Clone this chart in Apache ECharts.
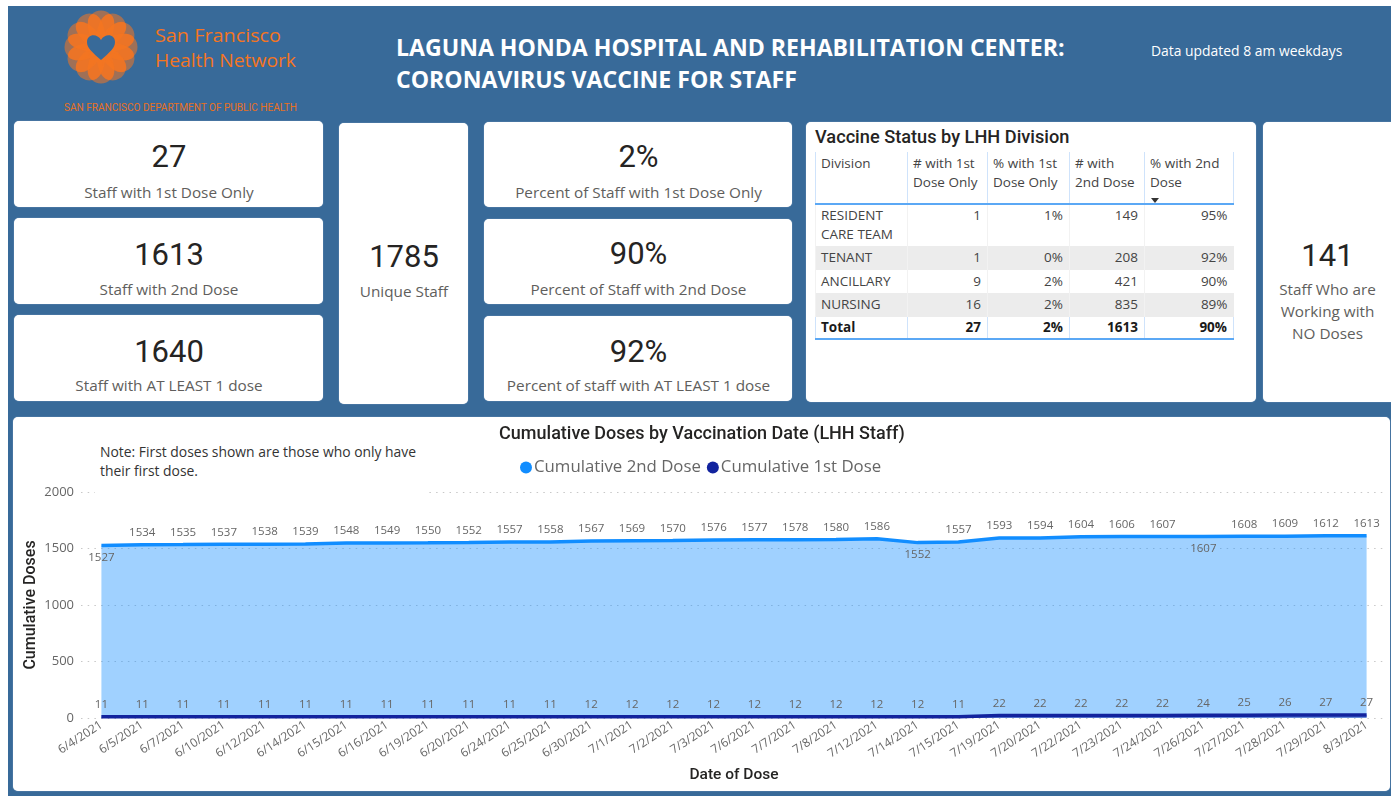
<!DOCTYPE html>
<html>
<head>
<meta charset="utf-8">
<title>LHH Staff Vaccine</title>
<script src="https://cdn.jsdelivr.net/npm/echarts@6/dist/echarts.min.js"></script>
<style>
    html, body {margin: 0; padding: 0; background: #fff;}
    body {width: 1391px; height: 796px; overflow: hidden; position: relative; font-family: "Open Sans", sans-serif;}
    #page {position: absolute; left: 8px; top: 6px; right: 0; bottom: 0; background: #386a99;}
    .abs {position: absolute;}
    .card {position: absolute; background: #fff; border-radius: 5px; box-shadow: 0 0 1px #c9d6e4; text-align: center;}
    .num {position: absolute; left: 1px; right: 0; font-family: Roboto, sans-serif; font-size: 31px; line-height: 36px; color: #252423;}
    .lbl {position: absolute; left: 1px; right: 0; font-size: 15.3px; line-height: 22px; color: #605e5c;}
    #title {left: 396px; top: 32px; color: #fff; font-weight: 700; font-size: 23.1px; line-height: 31.5px; white-space: nowrap;}
    #updated {left: 1151px; top: 41px; color: #fff; font-size: 13.9px; line-height: 20px; white-space: nowrap;}
    #tableTitle {left: 815px; top: 126px; font-family: Roboto, sans-serif; font-weight: 500; font-size: 18.2px; line-height: 22px; color: #252423; white-space: nowrap;}
    #statusTable {left: 815px; top: 152px; width: 418px; border-collapse: collapse; table-layout: fixed; font-size: 13.5px; line-height: 19px; color: #444;}
    #statusTable th, #statusTable td {padding: 0 6px 0 5px; font-weight: 400; vertical-align: top; box-sizing: border-box; border-left: 1px solid #f2f2f2;}
    #statusTable th {text-align: left; height: 52px; padding-top: 2px; border-left: 1px solid #cfe3fb; border-bottom: 2px solid #5ba8f5; position: relative;}
    #statusTable td {text-align: right;}
    #statusTable td:first-child {text-align: left;}
    #statusTable tbody tr td {height: 23.5px; padding-top: 2px;}
    #statusTable tbody tr:first-child td {height: 42px; padding-top: 1px;}
    #statusTable tbody tr:nth-child(even) td {background: #ececec;}
    #statusTable tfoot td {font-weight: 700; color: #1a1a1a; height: 22px; line-height: 20px; border-left: 1px solid #cfe3fb; border-bottom: 2px solid #5ba8f5;}
    #statusTable th:last-child, #statusTable tfoot td:last-child {border-right: 1px solid #cfe3fb;}
    #sortMark {position: absolute; left: 6px; bottom: 0; width: 0; height: 0; border-left: 4px solid transparent; border-right: 4px solid transparent; border-top: 5px solid #333;}
    #chartCard {left: 13px; top: 417px; width: 1377px; height: 374px;}
    #chart {position: absolute; left: 0; top: 0; width: 1377px; height: 374px;}
    #note {left: 95px; top: 442px; width: 333px; height: 51px; padding-left: 5px; box-sizing: border-box; background: #fff; font-size: 13.9px; line-height: 19px; color: #333;}
</style>
</head>
<body>
<div id="page"></div>

<svg class="abs" id="logo" style="left:55px;top:5px" width="250" height="112" viewBox="55 5 250 112"></svg>

<div class="abs" id="title"></div>
<div class="abs" id="updated"></div>

<div class="card" id="c0" style="left:14px;top:121px;width:309px;height:86px"></div>
<div class="card" id="c1" style="left:14px;top:218px;width:309px;height:86px"></div>
<div class="card" id="c2" style="left:14px;top:315px;width:309px;height:86px"></div>
<div class="card" id="c3" style="left:339px;top:123px;width:129px;height:281px"></div>
<div class="card" id="c4" style="left:484px;top:122px;width:308px;height:85px"></div>
<div class="card" id="c5" style="left:484px;top:219px;width:308px;height:85px"></div>
<div class="card" id="c6" style="left:484px;top:316px;width:308px;height:85px"></div>
<div class="card" style="left:806px;top:122px;width:450px;height:280px"></div>
<div class="card" id="c7" style="left:1263px;top:122px;width:128px;height:280px;border-radius:5px 0 0 5px"></div>

<div class="abs" id="tableTitle"></div>
<table class="abs" id="statusTable">
    <colgroup><col style="width:92px"><col style="width:80px"><col style="width:82px"><col style="width:75px"><col style="width:89px"></colgroup>
    <thead><tr id="headRow"></tr></thead>
    <tbody id="bodyRows"></tbody>
    <tfoot><tr id="totalRow"></tr></tfoot>
</table>

<div class="card" id="chartCard"><div id="chart"></div></div>
<div class="abs" id="note"></div>

<script>
    const titleLines = ['LAGUNA HONDA HOSPITAL AND REHABILITATION CENTER:', 'CORONAVIRUS VACCINE FOR STAFF'];
    const updatedText = 'Data updated 8 am weekdays';
    const noteText = 'Note: First doses shown are those who only have their first dose.';

    // 卡片
    const kpiValues = ['27', '1613', '1640', '1785', '2%', '90%', '92%', '141'];
    const kpiLabels = [
        'Staff with 1st Dose Only',
        'Staff with 2nd Dose',
        'Staff with AT LEAST 1 dose',
        'Unique Staff',
        'Percent of Staff with 1st Dose Only',
        'Percent of Staff with 2nd Dose',
        'Percent of staff with AT LEAST 1 dose',
        'Staff Who are Working with NO Doses'
    ];
    const numOffsets = [18, 19, 19, 116, 17, 17, 18, 116];
    const lblOffsets = [60, 60, 59, 157, 59, 59, 58, 156];

    // 表格
    const tableHeaders = ['Division', '# with 1st Dose Only', '% with 1st Dose Only', '# with 2nd Dose', '% with 2nd Dose'];
    const divisions = ['RESIDENT CARE TEAM', 'TENANT', 'ANCILLARY', 'NURSING'];
    const firstDoseCounts = [1, 1, 9, 16];
    const firstDosePercents = ['1%', '0%', '2%', '2%'];
    const secondDoseCounts = [149, 208, 421, 835];
    const secondDosePercents = ['95%', '92%', '90%', '89%'];
    const totalRow = ['Total', '27', '2%', '1613', '90%'];

    // 折线图
    const doseDates = [
        '6/4/2021', '6/5/2021', '6/7/2021', '6/10/2021', '6/12/2021', '6/14/2021', '6/15/2021', '6/16/2021',
        '6/19/2021', '6/20/2021', '6/24/2021', '6/25/2021', '6/30/2021', '7/1/2021', '7/2/2021', '7/3/2021',
        '7/6/2021', '7/7/2021', '7/8/2021', '7/12/2021', '7/14/2021', '7/15/2021', '7/19/2021', '7/20/2021',
        '7/22/2021', '7/23/2021', '7/24/2021', '7/26/2021', '7/27/2021', '7/28/2021', '7/29/2021', '8/3/2021'
    ];
    const cumulative2nd = [
        1527, 1534, 1535, 1537, 1538, 1539, 1548, 1549, 1550, 1552, 1557, 1558, 1567, 1569, 1570, 1576,
        1577, 1578, 1580, 1586, 1552, 1557, 1593, 1594, 1604, 1606, 1607, 1607, 1608, 1609, 1612, 1613
    ];
    const cumulative1st = [
        11, 11, 11, 11, 11, 11, 11, 11, 11, 11, 11, 11, 12, 12, 12, 12,
        12, 12, 12, 12, 12, 11, 22, 22, 22, 22, 22, 24, 25, 26, 27, 27
    ];
    const labelsBelow2nd = ['6/4/2021', '7/14/2021', '7/26/2021'];

    const labelFont = 'Open Sans';

    document.getElementById('title').innerHTML = titleLines.join('<br>');
    document.getElementById('updated').textContent = updatedText;
    document.getElementById('note').textContent = noteText;
    document.getElementById('tableTitle').textContent = 'Vaccine Status by LHH Division';

    kpiValues.forEach((value, i) => {
        const card = document.getElementById('c' + i);
        card.innerHTML = `<div class="num" style="top:${numOffsets[i]}px">${value}</div>` +
            `<div class="lbl" style="top:${lblOffsets[i]}px;${i === 7 ? 'padding:0 8px' : ''}">${kpiLabels[i]}</div>`;
    });

    document.getElementById('headRow').innerHTML = tableHeaders.map((h, i) =>
        `<th>${h}${i === 4 ? '<div id="sortMark"></div>' : ''}</th>`).join('');
    document.getElementById('bodyRows').innerHTML = divisions.map((d, i) =>
        `<tr><td>${d}</td><td>${firstDoseCounts[i]}</td><td>${firstDosePercents[i]}</td>` +
        `<td>${secondDoseCounts[i]}</td><td>${secondDosePercents[i]}</td></tr>`).join('');
    document.getElementById('totalRow').innerHTML = totalRow.map(t => `<td>${t}</td>`).join('');

    // logo
    let logoSvg = '';
    for (let i = 0; i < 12; i++) {
        const a = i * 30;
        logoSvg += `<circle cx="101" cy="24" r="13.5" fill="#f47521" fill-opacity="0.55" transform="rotate(${a} 101 47)"/>`;
        logoSvg += `<ellipse cx="101" cy="30" rx="8" ry="17" fill="#f47521" fill-opacity="0.75" transform="rotate(${a + 15} 101 47)"/>`;
    }
    logoSvg += '<path d="M101 60 C92 52 87 48 87 42 C87 34 97 33 101 40 C105 33 115 34 115 42 C115 48 110 52 101 60 Z" fill="#386a99"/>';
    logoSvg += '<text x="155" y="42" font-family="Open Sans" font-size="19" textLength="126" lengthAdjust="spacingAndGlyphs" fill="#f47521">San Francisco</text>';
    logoSvg += '<text x="155" y="67" font-family="Open Sans" font-size="19" textLength="141" lengthAdjust="spacingAndGlyphs" fill="#f47521">Health Network</text>';
    logoSvg += '<text x="64" y="111" font-family="Roboto" font-size="11" textLength="233" lengthAdjust="spacingAndGlyphs" fill="#e8701e">SAN FRANCISCO DEPARTMENT OF PUBLIC HEALTH</text>';
    document.getElementById('logo').innerHTML = logoSvg;

    const chart = echarts.init(document.getElementById('chart'));

    const option = {
        animation: false,
        title: {
            text: 'Cumulative Doses by Vaccination Date (LHH Staff)',
            left: 684,
            top: 3,
            textAlign: 'center',
            textStyle: {fontFamily: 'Roboto', fontSize: 18, fontWeight: 500, color: '#252423'},
        },
        legend: {
            left: 502,
            top: 37,
            icon: 'circle',
            itemWidth: 12,
            itemHeight: 12,
            itemGap: 6,
            data: ['Cumulative 2nd Dose', 'Cumulative 1st Dose'],
            textStyle: {fontFamily: labelFont, fontSize: 16.8, color: '#666', padding: [0, 0, 0, -3]},
        },
        grid: {left: 68, right: 3, top: 75, bottom: 73, outerBoundsMode: 'none'},
        xAxis: {
            type: 'category',
            data: doseDates,
            name: 'Date of Dose',
            nameLocation: 'middle',
            nameGap: 49,
            nameTextStyle: {fontFamily: 'Roboto', fontSize: 15.5, fontWeight: 500, color: '#252423'},
            axisLine: {show: false},
            axisTick: {show: false},
            axisLabel: {interval: 0, rotate: 33, margin: 6, fontFamily: labelFont, fontSize: 12, color: '#666'},
        },
        yAxis: {
            type: 'value',
            min: 0,
            max: 2000,
            interval: 500,
            name: 'Cumulative Doses',
            nameLocation: 'middle',
            nameGap: 42,
            nameMoveOverlap: false,
            nameTextStyle: {fontFamily: 'Roboto', fontSize: 16, fontWeight: 500, color: '#252423'},
            axisLabel: {margin: 7, fontFamily: labelFont, fontSize: 13, color: '#666', formatter: v => String(v)},
            splitLine: {lineStyle: {color: '#c8c8c8', width: 1, type: [1.5, 5.2]}},
        },
        series: [
            {
                name: 'Cumulative 2nd Dose',
                type: 'line',
                data: cumulative2nd.map((v, i) => ({
                    value: v,
                    label: {position: labelsBelow2nd.includes(doseDates[i]) ? 'bottom' : 'top'},
                })),
                color: '#118DFF',
                symbol: 'circle',
                symbolSize: 0,
                showAllSymbol: true,
                lineStyle: {width: 3.5, color: '#118DFF'},
                areaStyle: {color: '#118DFF', opacity: 0.4},
                label: {show: true, distance: 6, fontFamily: labelFont, fontSize: 11.5, color: '#666'},
            },
            {
                name: 'Cumulative 1st Dose',
                type: 'line',
                data: cumulative1st,
                color: '#12239E',
                symbol: 'circle',
                symbolSize: 0,
                showAllSymbol: true,
                lineStyle: {width: 3.5, color: '#12239E'},
                areaStyle: {color: '#12239E', opacity: 0.4},
                label: {show: true, position: 'top', distance: 6, fontFamily: labelFont, fontSize: 11.5, color: '#666'},
            },
        ],
    };

    chart.setOption(option);
</script>
</body>
</html>
